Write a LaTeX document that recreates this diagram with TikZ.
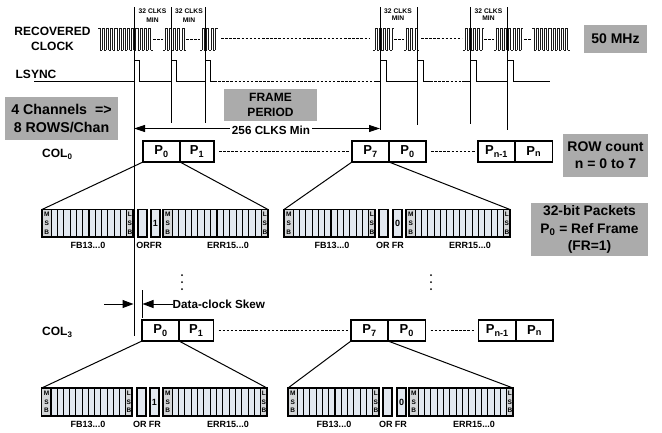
\documentclass[tikz,border=0pt]{standalone}
\usepackage{fontspec}
\setmainfont{Liberation Sans}
\usetikzlibrary{arrows.meta}
\definecolor{panel}{HTML}{ABABAB}
\definecolor{cell}{HTML}{E2E8F0}
\definecolor{cellend}{HTML}{D4D6D8}
\tikzset{
  txt/.style={font=\fontsize{#1}{14}\selectfont\bfseries,inner sep=0pt,align=center},
  txt/.default=12,
  panelbox/.style={fill=panel,inner sep=0pt,outer sep=0pt,align=center,font=\fontsize{13.5}{17}\selectfont\bfseries},
  pktbox/.style={draw=black,line width=1.1pt,fill=white,inner sep=0pt,outer sep=0pt,font=\fontsize{13}{15}\selectfont\bfseries},
  fieldbox/.style={draw=black,line width=1.1pt,fill=cell,inner sep=0pt,outer sep=0pt,font=\fontsize{9}{10}\selectfont\bfseries},
  wire/.style={line width=1pt,black},
  thinwire/.style={line width=.8pt,black!90},
  dashwire/.style={line width=.9pt,black,dash pattern=on 2.5pt off 1.6pt},
  fan/.style={line width=1pt,black},
  tinyl/.style={font=\fontsize{6.7}{7.6}\selectfont\bfseries,inner sep=0pt,align=center},
  tinyw/.style={font=\fontsize{6.7}{9}\selectfont\bfseries,inner sep=0pt,align=center},
  bit/.style={font=\fontsize{6.5}{8.7}\selectfont\bfseries,inner sep=0pt,align=center},
  flabel/.style={font=\fontsize{9}{10}\selectfont\bfseries,inner sep=0pt},
  skew/.style={line width=1pt,-{Triangle[length=11pt,width=8pt]}},
}
% name x0 y0 x1 y1 style text
\newcommand{\bx}[7]{\node[#6,minimum width={(#4-#2)*1pt},minimum height={(#5-#3)*1pt}] (#1) at ({(#2+#4)/2},{(#3+#5)/2}) {#7};}
% striped field: name x0 x1 ytop ybot ncells
\newcommand{\field}[6]{%
  \bx{#1}{#2}{#4}{#3}{#5}{fieldbox}{}
  \fill[cellend] (#2,#4) rectangle ({#2+9.3},#5);
  \fill[cellend] ({#3-6.2},#4) rectangle (#3,#5);
  \pgfmathsetmacro{\cw}{(#3-#2-9.3)/(#6-1)}
  \pgfmathtruncatemacro{\nn}{#6-1}
  \foreach \i in {0,...,\nn}{
    \draw[black,line width=1.1pt] ({#2+9.3+\i*\cw},#4) -- ({#2+9.3+\i*\cw},#5);
  }
  \draw[black,line width=1.1pt] (#2,#4) rectangle (#3,#5);
  \node[bit] at ({#2+4.8},{(#4+#5)/2}) {M\\S\\B};
  \node[bit] at ({#3-3.1},{(#4+#5)/2}) {L\\S\\B};
}
% packet: prefix ytop ybot fbx0 fbx1 orx0 frx0 errx0 errx1
\newcommand{\packet}[9]{%
  \field{#1fb}{#4}{#5}{#2}{#3}{14}
  \bx{#1or}{#6}{#2}{#6+9}{#3}{fieldbox}{}
  \bx{#1fr}{#7}{#2}{#7+9}{#3}{fieldbox}{\pval}
  \field{#1err}{#8}{#9}{#2}{#3}{16}
}
% clock wave: x0, number of half periods, half period, first level
\newcommand{\clkwave}[4]{%
  \foreach \k in {0,...,#2}{
    \pgfmathsetmacro{\xk}{#1+\k*#3}
    \pgfmathtruncatemacro{\lev}{mod(\k+#4,2)}
    \pgfmathsetmacro{\ya}{\lev==1?28:50}
    \pgfmathsetmacro{\yb}{\lev==1?50:28}
    \pgfmathsetmacro{\xn}{\xk+#3}
    \draw[thinwire,line cap=square] (\xk,\ya) -- (\xn,\ya);
    \ifnum\k<#2\relax \draw[thinwire,line cap=square] (\xn,\ya) -- (\xn,\yb);\fi
  }
}
\begin{document}
\begin{tikzpicture}[x=1pt,y=-1pt]
\useasboundingbox (0,0) rectangle (662,432);
\fill[white] (0,0) rectangle (662,432);

% panels
\bx{chan}{5}{97}{118}{139.5}{panelbox,font=\fontsize{14.2}{17.5}\selectfont\bfseries}{4 Channels \ =>\\8 ROWS/Chan}
\bx{frame}{224}{89}{317}{121}{panelbox,font=\fontsize{12}{15}\selectfont\bfseries}{FRAME\\PERIOD}
\bx{mhz}{584}{25}{647}{53}{panelbox,font=\fontsize{14}{17}\selectfont\bfseries}{50 MHz}
\bx{rowc}{563}{134}{648}{177}{panelbox,font=\fontsize{14}{17}\selectfont\bfseries}{ROW count\\n = 0 to 7}
\bx{bits}{531}{203}{648}{256}{panelbox,font=\fontsize{13.8}{17.5}\selectfont\bfseries}{32-bit Packets\\P\textsubscript{0} = Ref Frame\\(FR=1)}

% left labels
\node[inner sep=0pt,align=center,font=\fontsize{12}{14.6}\selectfont\bfseries] (rc) at (52.5,39) {RECOVERED\\CLOCK};
\node[txt=12] (ls) at (36,74) {LSYNC};
\node[txt=12,anchor=west] (c0) at (42,154) {COL\textsubscript{0}};
\node[txt=12,anchor=west] (c3) at (42,332) {COL\textsubscript{3}};

% clock waves
\clkwave{98}{25}{2.1}{1}
\clkwave{163}{10}{2.1}{0}
\clkwave{200}{7}{2.2}{0}
\clkwave{373}{9}{2.1}{0}
\clkwave{404}{6}{2.2}{0}
\clkwave{463}{9}{2.1}{0}
\clkwave{494}{13}{2.1}{0}
\clkwave{532}{17}{2.1}{1}
\coordinate (ca1) at (153,39);\coordinate (ca2) at (163,39);
\coordinate (cb1) at (186,39);\coordinate (cb2) at (200,39);
\coordinate (cc1) at (221,38);\coordinate (cc2) at (369,38);
\coordinate (cd1) at (394,39);\coordinate (cd2) at (404,39);
\coordinate (ce1) at (421,38);\coordinate (ce2) at (462,38);
\coordinate (cf1) at (484,39);\coordinate (cf2) at (494,39);
\coordinate (cg1) at (524,39);\coordinate (cg2) at (532,39);
\foreach \a/\b in {ca1/ca2,cb1/cb2,cc1/cc2,cd1/cd2,ce1/ce2,cf1/cf2,cg1/cg2}{\draw[dashwire] (\a) -- (\b);}

% LSYNC
\draw[wire] (34,81) -- (134,81) -- (134,60) -- (139,60) -- (139,81) -- (171,81) -- (171,60) -- (176,60) -- (176,81) -- (205,81) -- (205,60) -- (210,60) -- (210,81) -- (214,81);
\draw[dashwire] (214,81) -- (375,81);
\draw[wire] (375,81) -- (380,81) -- (380,60) -- (386,60) -- (386,81) -- (417,81) -- (417,60) -- (423,60) -- (423,81) -- (430,81);
\draw[dashwire] (430,81) -- (462,81);
\draw[wire] (462,81) -- (470,81) -- (470,60) -- (476,60) -- (476,81) -- (507,81) -- (507,60) -- (513,60) -- (513,81) -- (550,81);

% vertical markers
\coordinate (v1t) at (134,7);\coordinate (v1b) at (134,336);
\coordinate (v2t) at (171,7);\coordinate (v2b) at (171,123);
\coordinate (v3t) at (205,7);\coordinate (v3b) at (205,123);
\coordinate (v4t) at (380,7);\coordinate (v4b) at (380,130);
\coordinate (v5t) at (417,7);\coordinate (v5b) at (417,125);
\coordinate (v6t) at (470,7);\coordinate (v6b) at (470,124);
\coordinate (v7t) at (507,7);\coordinate (v7b) at (507,130);
\foreach \n in {1,...,7}{\draw[wire] (v\n t) -- (v\n b);}

% 32 CLKS labels
\node[tinyw] (k1) at (152.5,15.5) {32 CLKS\\MIN};
\node[tinyw] (k2) at (189,15.5) {32 CLKS\\MIN};
\node[tinyl] (k3) at (398,14.5) {32 CLKS\\MIN};
\node[tinyl] (k4) at (488.5,14.5) {32 CLKS\\MIN};

% frame arrow
\coordinate (al) at (134,128.5);\coordinate (ar) at (380,128.5);
\draw[line width=1pt,{Triangle[length=11pt,width=7pt]}-{Triangle[length=11pt,width=7pt]}] (al) -- (ar);
\node[txt=11.7,fill=white,inner xsep=2pt,inner ysep=1pt] (clks) at (271,130.5) {256 CLKS Min};

% COL0 boxes
\bx{a0}{143}{141}{180}{162}{pktbox}{P\textsubscript{0}}
\bx{a1}{180}{141}{214}{162}{pktbox}{P\textsubscript{1}}
\bx{a7}{352}{141}{389}{162}{pktbox}{P\textsubscript{7}}
\bx{a8}{389}{141}{426}{162}{pktbox}{P\textsubscript{0}}
\bx{am}{478}{141}{515}{162}{pktbox}{P\textsubscript{n-1}}
\bx{an}{515}{141}{552.5}{162}{pktbox}{P\textsubscript{n}}
\draw[dashwire] ([xshift=5pt]a1.east) -- ([xshift=-2pt]a7.west);
\draw[dashwire] ([xshift=5pt]a8.east) -- ([xshift=-3pt]am.west);

% COL3 boxes
\bx{b0}{142}{320}{179}{341}{pktbox}{P\textsubscript{0}}
\bx{b1}{179}{320}{213.5}{341}{pktbox}{P\textsubscript{1}}
\bx{b7}{351}{320}{388}{341}{pktbox}{P\textsubscript{7}}
\bx{b8}{388}{320}{425.5}{341}{pktbox}{P\textsubscript{0}}
\bx{bm}{478.5}{320}{516}{341}{pktbox}{P\textsubscript{n-1}}
\bx{bn}{516}{320}{553}{341}{pktbox}{P\textsubscript{n}}
\draw[dashwire] ([xshift=5pt]b1.east) -- ([xshift=-3pt]b7.west);
\draw[dashwire] ([xshift=5pt]b8.east) -- ([xshift=-4pt]bm.west);

% packets
\def\pval{1}\packet{p}{209.5}{237}{42}{133}{138}{151}{163}{268}
\def\pval{0}\packet{q}{209.5}{237}{284}{375}{379}{393}{406}{510}
\def\pval{1}\packet{r}{388}{416}{41.7}{132}{137}{150}{163}{267}
\def\pval{0}\packet{s}{388}{416}{288}{379}{383}{397}{409}{513}

% fans
\draw[fan] (a0.south west) -- (pfb.north west);
\draw[fan] (a0.south east) -- (perr.north east);
\draw[fan] (a7.south west) -- (qfb.north west);
\draw[fan] (a7.south east) -- (qerr.north east);
\draw[fan] (b0.south west) -- (rfb.north west);
\draw[fan] (b0.south east) -- (rerr.north east);
\draw[fan] (b7.south west) -- (sfb.north west);
\draw[fan] (b7.south east) -- (serr.north east);

% field labels
\node[flabel] (l1) at (88,245.5) {FB13...0};
\node[flabel] (l2) at (149,245.5) {ORFR};
\node[flabel] (l3) at (228,245.5) {ERR15...0};
\node[flabel] (l4) at (332,245.5) {FB13...0};
\node[flabel] (l5) at (390,245.5) {OR FR};
\node[flabel] (l6) at (470,245.5) {ERR15...0};
\node[flabel] (l7) at (88,424) {FB13...0};
\node[flabel] (l8) at (147,424) {OR FR};
\node[flabel] (l9) at (228,424) {ERR15...0};
\node[flabel] (l10) at (334,424) {FB13...0};
\node[flabel] (l11) at (393,424) {OR FR};
\node[flabel] (l12) at (474,424) {ERR15...0};

% skew
\coordinate (st) at (142,290);\coordinate (sb) at (142,318);
\draw[wire] (st) -- (sb);
\coordinate (s1) at (104,304);\coordinate (s2) at (133.5,304);\coordinate (s3) at (142.5,304);
\draw[skew] (s1) -- (s2);
\node[txt=11.7,anchor=west] (sk) at (172.5,304) {Data-clock Skew};
\draw[skew] (sk.west) -- (s3);

% dots
\foreach \y in {275,282,289}{\fill (182,\y) circle (1pt);\fill (431,\y) circle (1pt);}
\end{tikzpicture}
\end{document}
